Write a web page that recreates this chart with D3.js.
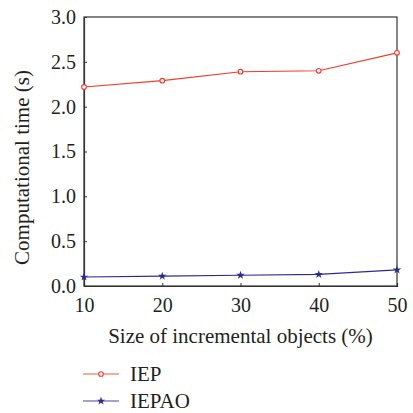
<!DOCTYPE html>
<html>
<head>
<meta charset="utf-8">
<script src="https://cdn.jsdelivr.net/npm/d3@7"></script>
</head>
<body style="margin:0">
<script>
var sizes = [10, 20, 30, 40, 50];
var iepValues = [2.22, 2.29, 2.39, 2.40, 2.60];
var iepaoValues = [0.10, 0.11, 0.12, 0.13, 0.18];
var yTicks = [0, 0.5, 1.0, 1.5, 2.0, 2.5, 3.0];
var seriesNames = ['IEP', 'IEPAO'];

var w = 413, h = 413;
var padding = { top: 17, right: 16, bottom: 127, left: 84 };
var chartArea = { width: w - padding.left - padding.right, height: h - padding.top - padding.bottom };

const svg = d3.select('body').append('svg')
	.attr('width', w)
	.attr('height', h)
	.attr('style', "font-family: 'Liberation Serif', serif");

var xScale = d3.scaleLinear().domain([10, 50]).range([0, chartArea.width]);
var yScale = d3.scaleLinear().domain([0, 3]).range([chartArea.height, 0]);

var g = svg.append('g').attr('transform', 'translate(' + padding.left + ',' + padding.top + ')');

// frame
g.append('rect')
	.attr('width', chartArea.width)
	.attr('height', chartArea.height)
	.attr('fill', 'none')
	.attr('stroke', '#333')
	.attr('stroke-width', 1.2);

var xAxis = g.append('g')
	.attr('transform', 'translate(0,' + chartArea.height + ')')
	.call(d3.axisBottom(xScale).tickValues(sizes).tickSize(-3).tickPadding(8).tickFormat(d3.format('d')));
var yAxis = g.append('g')
	.call(d3.axisLeft(yScale).tickValues(yTicks).tickSize(-3).tickPadding(8).tickFormat(d3.format('.1f')));
[xAxis, yAxis].forEach(function (ax) {
	ax.attr('font-family', 'Liberation Serif').attr('font-size', 20);
	ax.select('.domain').attr('stroke', '#333').attr('stroke-width', 1.2);
	ax.selectAll('line').attr('stroke', '#333');
	ax.selectAll('text').attr('fill', '#231f20').attr('font-family', 'Liberation Serif');
});
xAxis.selectAll('text').attr('dy', '0.9em');

var colors = ['#f03c2a', '#2b2b8f'];
var series = [iepValues, iepaoValues];
var line = d3.line().x(function (d, i) { return xScale(sizes[i]); }).y(function (d) { return yScale(d); });

series.forEach(function (vals, s) {
	g.append('path').datum(vals)
		.attr('d', line)
		.attr('fill', 'none')
		.attr('stroke', colors[s])
		.attr('stroke-width', 1.1);
});

function drawMarker(sel, s, x, y) {
	if (s === 0) {
		sel.append('circle').attr('cx', x).attr('cy', y).attr('r', 2.3)
			.attr('fill', '#fff').attr('stroke', colors[0]).attr('stroke-width', 1.1);
	} else {
		sel.append('path').attr('transform', 'translate(' + x + ',' + y + ')')
			.attr('d', d3.symbol().type(d3.symbolStar).size(22)())
			.attr('fill', colors[1]);
	}
}

series.forEach(function (vals, s) {
	vals.forEach(function (v, i) {
		drawMarker(g, s, xScale(sizes[i]), yScale(v));
	});
});

// axis titles
svg.append('text')
	.attr('x', padding.left + chartArea.width / 2)
	.attr('y', 343)
	.attr('text-anchor', 'middle')
	.attr('fill', '#231f20')
	.attr('font-family', 'Liberation Serif').attr('font-size', 21)
	.text('Size of incremental objects (%)');
svg.append('text')
	.attr('transform', 'translate(29,' + (padding.top + chartArea.height / 2 + 16) + ') rotate(-90)')
	.attr('text-anchor', 'middle')
	.attr('fill', '#231f20')
	.attr('font-family', 'Liberation Serif').attr('font-size', 21)
	.text('Computational time (s)');

// legend
var legend = svg.append('g');
seriesNames.forEach(function (name, s) {
	var ly = 374 + s * 27;
	legend.append('line').attr('x1', 83).attr('x2', 119).attr('y1', ly).attr('y2', ly)
		.attr('stroke', colors[s]).attr('stroke-width', 1.1).attr('opacity', 0.85);
	drawMarker(legend, s, 101, ly);
	legend.append('text').attr('x', 130).attr('y', ly + 7)
		.attr('fill', '#231f20')
		.attr('font-family', 'Liberation Serif').attr('font-size', 21)
		.text(name);
});
</script>
</body>
</html>
